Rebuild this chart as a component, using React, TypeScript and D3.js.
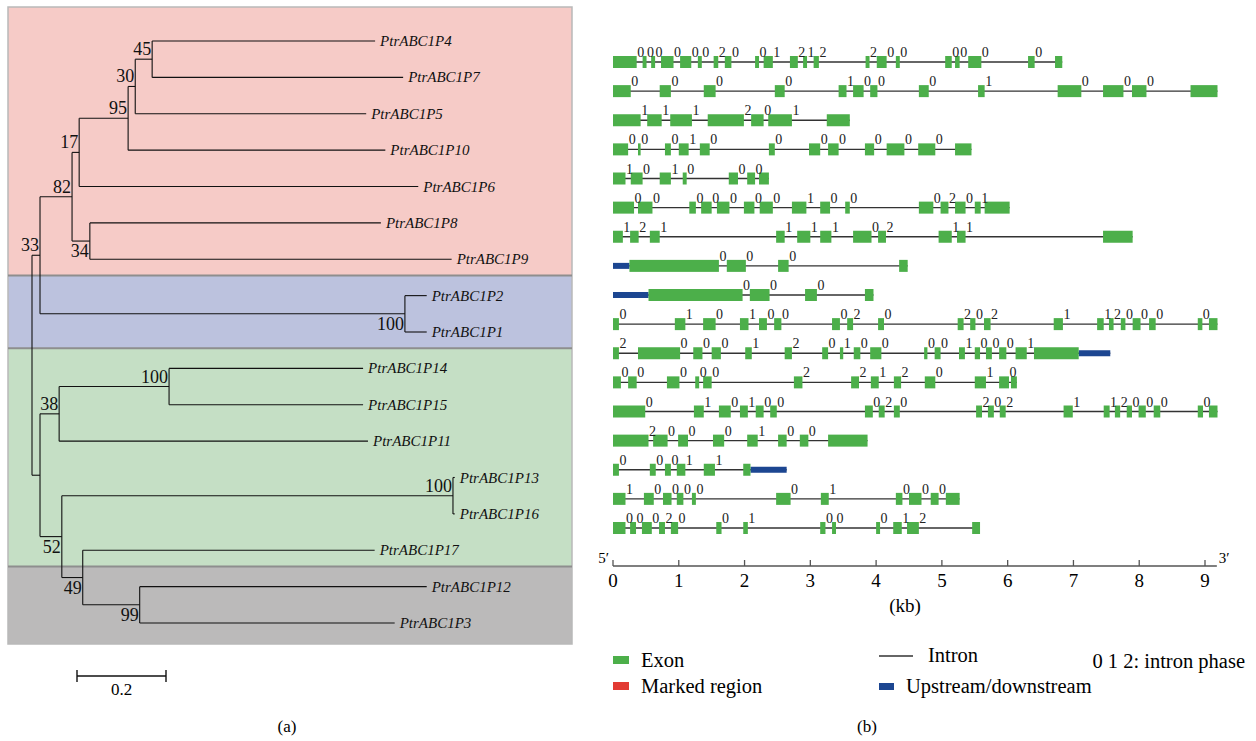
import React from 'react';
import * as d3 from 'd3';

// ---- tree (branch lengths) ----
const newick =
  '(((((((P4:0.501,P7:0.564)45:0.038,P5:0.519)30:0.016,P10:0.578)95:0.110,P6:0.762)17:0.016,' +
  '(P8:0.654,P9:0.813)34:0.040)82:0.072,(P2:0.049,P1:0.049)100:0.820)33:0.018,' +
  '(((P14:0.436,P15:0.436)100:0.247,P11:0.694)38:0.043,' +
  '((P13:0.004,P16:0.004)100:0.879,(P17:0.656,(P12:0.645,P3:0.573)99:0.128)49:0.047)52:0.049):0.018);';

const groups = [
  { from: 'P4', to: 'P9', fill: '#f6cbc7' },
  { from: 'P2', to: 'P1', fill: '#bcc2de' },
  { from: 'P14', to: 'P17', fill: '#c5dfc5' },
  { from: 'P12', to: 'P3', fill: '#bbbaba' },
];

// ---- gene structures (kb), rows in tree order ----
const exons: number[][][] = [
  [[0, 0.36], [0.45, 0.51], [0.58, 0.64], [0.73, 0.92], [1.02, 1.19], [1.29, 1.35], [1.53, 1.6], [1.7, 1.8], [2.16, 2.22], [2.29, 2.43], [2.69, 2.81], [2.89, 2.95], [3.05, 3.13], [3.84, 3.9], [4.01, 4.16], [4.3, 4.36], [5.05, 5.15], [5.2, 5.27], [5.4, 5.6], [6.31, 6.41], [6.72, 6.83]],
  [[0, 0.27], [0.71, 0.88], [1.38, 1.56], [2.46, 2.61], [3.43, 3.55], [3.65, 3.81], [3.91, 4.02], [4.65, 4.8], [5.55, 5.65], [6.76, 7.12], [7.45, 7.76], [7.89, 8.11], [8.78, 9.19]],
  [[0, 0.42], [0.52, 0.74], [0.87, 1.2], [1.44, 1.99], [2.1, 2.29], [2.36, 2.72], [3.25, 3.6]],
  [[0, 0.23], [0.38, 0.42], [0.79, 0.88], [1.0, 1.15], [1.32, 1.47], [2.37, 2.46], [2.98, 3.15], [3.27, 3.43], [3.83, 3.97], [4.16, 4.43], [4.64, 4.9], [5.2, 5.45]],
  [[0, 0.19], [0.27, 0.45], [0.71, 0.88], [1.06, 1.12], [1.76, 1.9], [2.04, 2.16], [2.22, 2.37]],
  [[0, 0.32], [0.38, 0.6], [1.16, 1.26], [1.34, 1.5], [1.58, 1.77], [1.99, 2.15], [2.23, 2.43], [2.72, 2.94], [3.15, 3.3], [3.53, 3.6], [4.65, 4.87], [4.98, 5.1], [5.2, 5.36], [5.5, 5.59], [5.65, 6.03]],
  [[0, 0.15], [0.26, 0.39], [0.56, 0.71], [2.48, 2.61], [2.8, 3.0], [3.15, 3.32], [3.65, 3.93], [4.03, 4.15], [4.95, 5.15], [5.23, 5.36], [7.45, 7.9]],
  [[0.25, 1.61], [1.73, 2.02], [2.51, 2.67], [4.35, 4.48]],
  [[0.54, 1.97], [2.08, 2.38], [2.92, 3.1], [3.83, 3.96]],
  [[0, 0.09], [0.94, 1.1], [1.37, 1.56], [1.93, 2.06], [2.22, 2.34], [2.45, 2.56], [3.33, 3.45], [3.56, 3.65], [4.03, 4.12], [5.24, 5.33], [5.43, 5.51], [5.64, 5.74], [6.7, 6.84], [7.36, 7.46], [7.54, 7.61], [7.72, 7.79], [7.9, 8.02], [8.15, 8.25], [8.89, 8.96], [9.06, 9.19]],
  [[0, 0.09], [0.38, 1.02], [1.22, 1.36], [1.5, 1.64], [2.01, 2.11], [2.61, 2.72], [3.18, 3.27], [3.45, 3.5], [3.66, 3.76], [3.91, 4.08], [4.73, 4.78], [4.89, 4.98], [5.26, 5.35], [5.5, 5.58], [5.67, 5.76], [5.87, 5.98], [6.12, 6.29], [6.4, 7.08]],
  [[0, 0.12], [0.23, 0.36], [0.82, 1.01], [1.25, 1.31], [1.37, 1.5], [2.75, 2.88], [3.62, 3.74], [3.92, 4.04], [4.27, 4.38], [4.74, 4.9], [5.5, 5.67], [5.87, 6.02], [6.05, 6.14]],
  [[0, 0.49], [1.23, 1.38], [1.61, 1.79], [1.93, 2.05], [2.17, 2.29], [2.39, 2.49], [3.83, 3.95], [4.04, 4.13], [4.27, 4.36], [5.52, 5.61], [5.7, 5.79], [5.88, 5.97], [6.85, 6.99], [7.46, 7.55], [7.63, 7.71], [7.81, 7.89], [7.99, 8.1], [8.22, 8.32], [8.89, 8.97], [9.06, 9.19]],
  [[0, 0.54], [0.61, 0.83], [0.99, 1.14], [1.52, 1.69], [2.04, 2.2], [2.51, 2.64], [2.84, 2.97], [3.27, 3.87]],
  [[0, 0.09], [0.56, 0.65], [0.79, 0.88], [0.97, 1.1], [1.38, 1.55], [1.98, 2.09]],
  [[0, 0.19], [0.47, 0.62], [0.76, 0.89], [0.97, 1.07], [1.2, 1.26], [2.48, 2.7], [3.16, 3.28], [4.3, 4.4], [4.5, 4.69], [4.83, 4.95], [5.06, 5.27]],
  [[0, 0.19], [0.26, 0.35], [0.44, 0.59], [0.7, 0.79], [0.88, 0.99], [1.57, 1.65], [1.98, 2.05], [3.15, 3.23], [3.33, 3.39], [4.0, 4.06], [4.26, 4.39], [4.47, 4.65], [5.46, 5.58]],
];

// intron phases, one digit per intron
const phases = [
  '00000020012122000000',
  '000010001000',
  '111201',
  '00010000000',
  '101000',
  '00000001000201',
  '1211110211',
  '000',
  '000',
  '0101000202021120000',
  '20001201000010001',
  '000002212010',
  '0101000202021120000',
  '2000100',
  '00011',
  '1000001000',
  '000200100012',
];

// upstream/downstream regions [row, start, end]
const flanks = [
  [7, 0, 0.25],
  [8, 0, 0.54],
  [10, 7.08, 7.56],
  [14, 2.09, 2.64],
];

const axisTicks = [0, 1, 2, 3, 4, 5, 6, 7, 8, 9];

// ---- tiny newick parser ----
type TNode = { name: string; support: string; len: number; children: TNode[] };
function parseNewick(s: string): TNode {
  let i = 0;
  function node(): TNode {
    const n: TNode = { name: '', support: '', len: 0, children: [] };
    if (s[i] === '(') {
      i++;
      n.children.push(node());
      while (s[i] === ',') {
        i++;
        n.children.push(node());
      }
      i++; // ')'
      let lab = '';
      while (i < s.length && !':,);'.includes(s[i])) lab += s[i++];
      n.support = lab;
    } else {
      let lab = '';
      while (i < s.length && !':,);'.includes(s[i])) lab += s[i++];
      n.name = lab;
    }
    if (s[i] === ':') {
      i++;
      let num = '';
      while (i < s.length && !',);'.includes(s[i])) num += s[i++];
      n.len = +num;
    }
    return n;
  }
  return node();
}

const serif = '"Liberation Serif", "DejaVu Serif", serif';

const App = () => {
  // tree layout
  const root = d3.hierarchy(parseNewick(newick), (d) => (d.children.length ? d.children : null));
  const leaves = root.leaves();
  const x = d3.scaleLinear().domain([0, 0.2]).range([32, 121]);
  const yLeaf = d3.scalePoint<string>().domain(leaves.map((d) => d.data.name)).range([41, 623]);

  const pos = new Map<any, { x: number; y: number; dist: number }>();
  root.eachBefore((n: any) => {
    const dist = n.parent ? pos.get(n.parent).dist + n.data.len : 0;
    pos.set(n, { x: x(dist), y: 0, dist });
  });
  root.eachAfter((n: any) => {
    const p = pos.get(n);
    if (!n.children) p.y = yLeaf(n.data.name);
    else p.y = (pos.get(n.children[0]).y + pos.get(n.children[n.children.length - 1]).y) / 2;
  });
  const nodes = root.descendants();

  // group bands
  const step = yLeaf.step();
  const bands = groups.map((g, i) => {
    const y0 = i === 0 ? yLeaf(g.from) - 34 : yLeaf(g.from) - step / 2 - 2;
    const y1 = i === groups.length - 1 ? yLeaf(g.to) + 21 : yLeaf(g.to) + step / 2 - 2;
    return { ...g, y0, y1 };
  });

  // gene panel
  const gx = d3.scaleLinear().domain([0, 9]).range([613, 1205]);
  const gy = d3.scalePoint<number>().domain(exons.map((_, i) => i)).range([62, 528]);
  const exonH = 12;
  const flankH = 6;
  const axisY = 566;

  return (
    <svg width={1256} height={741} style={{ position: 'absolute', left: 0, top: 0, background: '#fff' }} fontFamily={serif}>
      {/* bands */}
      {bands.map((b, i) => (
        <rect key={i} x={8} y={b.y0} width={564} height={b.y1 - b.y0} fill={b.fill} />
      ))}
      <rect x={8} y={bands[0].y0} width={564} height={bands[3].y1 - bands[0].y0} fill="none" stroke="#b9b9b9" strokeWidth={1.5} />
      {bands.slice(1).map((b, i) => (
        <line key={i} x1={8} x2={572} y1={b.y0} y2={b.y0} stroke="#8e8e8e" strokeWidth={2} />
      ))}

      {/* branches */}
      <g stroke="#111" strokeWidth={1.1} fill="none">
        {nodes.map((n: any, i) => {
          const p = pos.get(n);
          const els = [];
          if (n.parent) {
            const pp = pos.get(n.parent);
            els.push(<line key={'h' + i} x1={pp.x} x2={p.x} y1={p.y} y2={p.y} />);
          }
          if (n.children) {
            const a = pos.get(n.children[0]).y;
            const b = pos.get(n.children[n.children.length - 1]).y;
            els.push(<line key={'v' + i} x1={p.x} x2={p.x} y1={a} y2={b} />);
          }
          return els;
        })}
      </g>

      {/* support values */}
      {nodes
        .filter((n: any) => n.children && n.data.support)
        .map((n: any, i) => {
          const p = pos.get(n);
          const lower = n.parent && n.parent.children[n.parent.children.length - 1] === n;
          return (
            <text key={i} x={p.x - 1} y={lower ? p.y + 16 : p.y - 4} textAnchor="end" fontSize={18} fill="#111">
              {n.data.support}
            </text>
          );
        })}

      {/* leaf labels */}
      {leaves.map((n: any, i) => {
        const p = pos.get(n);
        return (
          <text key={i} x={p.x + 5} y={p.y + 5} fontSize={15} fontStyle="italic" fill="#111">
            {'PtrABC1' + n.data.name}
          </text>
        );
      })}

      {/* scale bar */}
      <g stroke="#111" strokeWidth={1.4}>
        <line x1={77} x2={77 + x(0.2) - x(0)} y1={676} y2={676} />
        <line x1={77} x2={77} y1={670} y2={682} />
        <line x1={77 + x(0.2) - x(0)} x2={77 + x(0.2) - x(0)} y1={670} y2={682} />
      </g>
      <text x={77 + (x(0.2) - x(0)) / 2} y={695} textAnchor="middle" fontSize={17}>0.2</text>
      <text x={287} y={732} textAnchor="middle" fontSize={17}>(a)</text>

      {/* gene structures */}
      {exons.map((row, r) => {
        const y = gy(r);
        const fl = flanks.filter((f) => f[0] === r);
        const start = Math.min(row[0][0], ...fl.map((f) => f[1]));
        const end = Math.max(row[row.length - 1][1], ...fl.map((f) => f[2]));
        return (
          <g key={r}>
            <line x1={gx(start)} x2={gx(end)} y1={y} y2={y} stroke="#333" strokeWidth={1.3} />
            {fl.map((f, k) => (
              <rect key={'f' + k} x={gx(f[1])} y={y - flankH / 2} width={gx(f[2]) - gx(f[1])} height={flankH} fill="#1c4691" />
            ))}
            {row.map((e, k) => (
              <rect key={k} x={gx(e[0])} y={y - exonH / 2} width={Math.max(1, gx(e[1]) - gx(e[0]))} height={exonH} fill="#4caf4a" />
            ))}
            {row.slice(0, -1).map((e, k) => (
              <text key={'p' + k} x={gx(e[1]) + 0.5} y={y - 5} fontSize={14} fill="#222">
                {phases[r][k]}
              </text>
            ))}
          </g>
        );
      })}

      {/* axis */}
      <line x1={gx(0)} x2={gx(9.18)} y1={axisY} y2={axisY} stroke="#555" strokeWidth={1.5} />
      {axisTicks.map((t) => (
        <g key={t}>
          <line x1={gx(t)} x2={gx(t)} y1={axisY} y2={axisY - 6} stroke="#555" strokeWidth={1.3} />
          <text x={gx(t)} y={axisY + 21} textAnchor="middle" fontSize={19}>{t}</text>
        </g>
      ))}
      <text x={gx(0) - 4} y={axisY - 3} textAnchor="end" fontSize={15}>5′</text>
      <text x={gx(9.18) + 2} y={axisY - 3} fontSize={15}>3′</text>
      <text x={905} y={612} textAnchor="middle" fontSize={19}>(kb)</text>

      {/* legend */}
      <rect x={613} y={656} width={16} height={8} fill="#4caf4a" />
      <text x={641} y={667} fontSize={20.5}>Exon</text>
      <rect x={613} y={682} width={16} height={8} fill="#e23b33" />
      <text x={641} y={693} fontSize={20.5}>Marked region</text>
      <line x1={879} x2={913} y1={656} y2={656} stroke="#333" strokeWidth={1.3} />
      <text x={928} y={662} fontSize={20.5}>Intron</text>
      <rect x={879} y={683} width={15} height={7} fill="#1c4691" />
      <text x={906} y={693} fontSize={20.5}>Upstream/downstream</text>
      <text x={1245} y={668} textAnchor="end" fontSize={20.5}>0 1 2: intron phase</text>
      <text x={867} y={732} textAnchor="middle" fontSize={17}>(b)</text>
    </svg>
  );
};

export default App;
